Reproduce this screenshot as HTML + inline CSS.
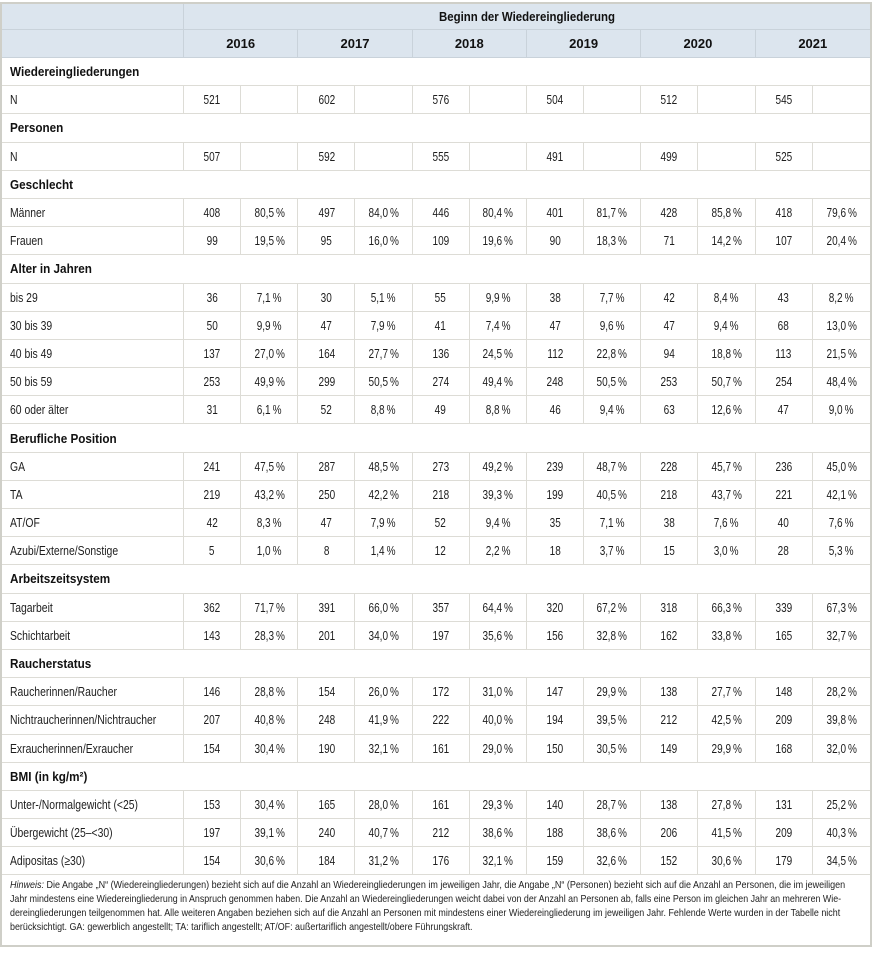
<!DOCTYPE html>
<html lang="de">
<head>
<meta charset="utf-8">
<style>
html,body{margin:0;padding:0;background:#fff}
body{width:872px;height:955px;position:relative;overflow:hidden;font-family:"Liberation Sans",Arial,sans-serif;color:#1e1e1e}
#w{position:absolute;left:0;top:2px;width:872px;height:945px;box-sizing:border-box;border:2px solid #cfcfc8}
table{border-collapse:separate;border-spacing:0;table-layout:fixed;width:868px}
td{padding:0;border-bottom:1px solid #dddcd6;border-right:1px solid #dddcd6;font-size:13px;text-align:center;vertical-align:middle;white-space:nowrap;overflow:visible;line-height:15px}
td.e{border-right:none}
tr.h td{background:#dce5ee;border-color:#c9d2da;font-weight:bold;color:#111}
tr.h1{height:26px}
tr.h2{height:28px}
tr.b{height:28.2px}
td.s{text-align:left;padding-left:8px;font-weight:bold;border-right:none;color:#111}
td.l{text-align:left;padding-left:8px}
span{display:inline-block}
td.l span{transform:scaleX(.80);transform-origin:0 50%}
td.n span{transform:scaleX(.77);transform-origin:50% 50%}
td.s span{transform:scaleX(.9);transform-origin:0 50%}
span.bg{transform:scaleX(.88);transform-origin:50% 50%}
.f{position:absolute;left:10px;top:879px;font-size:10.2px;line-height:14px;color:#1e1e1e}
.f div{white-space:nowrap;height:14px}
.f span{transform:scaleX(.82);transform-origin:0 50%}
</style>
</head>
<body>
<div id="w">
<table>
<colgroup>
<col style="width:182px">
<col style="width:57.17px"><col style="width:57.17px"><col style="width:57.17px"><col style="width:57.17px">
<col style="width:57.17px"><col style="width:57.17px"><col style="width:57.17px"><col style="width:57.17px">
<col style="width:57.17px"><col style="width:57.17px"><col style="width:57.17px"><col style="width:57.13px">
</colgroup>
<tr class="h h1"><td></td><td colspan="12" class="e"><span class="bg">Beginn der Wiedereingliederung</span></td></tr>
<tr class="h h2"><td></td><td colspan="2">2016</td><td colspan="2">2017</td><td colspan="2">2018</td><td colspan="2">2019</td><td colspan="2">2020</td><td colspan="2" class="e">2021</td></tr>

<tr class="b"><td colspan="13" class="s"><span>Wiedereingliederungen</span></td></tr>
<tr class="b"><td class="l"><span>N</span></td><td class="n"><span>521</span></td><td></td><td class="n"><span>602</span></td><td></td><td class="n"><span>576</span></td><td></td><td class="n"><span>504</span></td><td></td><td class="n"><span>512</span></td><td></td><td class="n"><span>545</span></td><td class="e"></td></tr>

<tr class="b"><td colspan="13" class="s"><span>Personen</span></td></tr>
<tr class="b"><td class="l"><span>N</span></td><td class="n"><span>507</span></td><td></td><td class="n"><span>592</span></td><td></td><td class="n"><span>555</span></td><td></td><td class="n"><span>491</span></td><td></td><td class="n"><span>499</span></td><td></td><td class="n"><span>525</span></td><td class="e"></td></tr>

<tr class="b"><td colspan="13" class="s"><span>Geschlecht</span></td></tr>
<tr class="b"><td class="l"><span>Männer</span></td><td class="n"><span>408</span></td><td class="n"><span>80,5&#8201;%</span></td><td class="n"><span>497</span></td><td class="n"><span>84,0&#8201;%</span></td><td class="n"><span>446</span></td><td class="n"><span>80,4&#8201;%</span></td><td class="n"><span>401</span></td><td class="n"><span>81,7&#8201;%</span></td><td class="n"><span>428</span></td><td class="n"><span>85,8&#8201;%</span></td><td class="n"><span>418</span></td><td class="n e"><span>79,6&#8201;%</span></td></tr>
<tr class="b"><td class="l"><span>Frauen</span></td><td class="n"><span>99</span></td><td class="n"><span>19,5&#8201;%</span></td><td class="n"><span>95</span></td><td class="n"><span>16,0&#8201;%</span></td><td class="n"><span>109</span></td><td class="n"><span>19,6&#8201;%</span></td><td class="n"><span>90</span></td><td class="n"><span>18,3&#8201;%</span></td><td class="n"><span>71</span></td><td class="n"><span>14,2&#8201;%</span></td><td class="n"><span>107</span></td><td class="n e"><span>20,4&#8201;%</span></td></tr>

<tr class="b"><td colspan="13" class="s"><span>Alter in Jahren</span></td></tr>
<tr class="b"><td class="l"><span>bis 29</span></td><td class="n"><span>36</span></td><td class="n"><span>7,1&#8201;%</span></td><td class="n"><span>30</span></td><td class="n"><span>5,1&#8201;%</span></td><td class="n"><span>55</span></td><td class="n"><span>9,9&#8201;%</span></td><td class="n"><span>38</span></td><td class="n"><span>7,7&#8201;%</span></td><td class="n"><span>42</span></td><td class="n"><span>8,4&#8201;%</span></td><td class="n"><span>43</span></td><td class="n e"><span>8,2&#8201;%</span></td></tr>
<tr class="b"><td class="l"><span>30 bis 39</span></td><td class="n"><span>50</span></td><td class="n"><span>9,9&#8201;%</span></td><td class="n"><span>47</span></td><td class="n"><span>7,9&#8201;%</span></td><td class="n"><span>41</span></td><td class="n"><span>7,4&#8201;%</span></td><td class="n"><span>47</span></td><td class="n"><span>9,6&#8201;%</span></td><td class="n"><span>47</span></td><td class="n"><span>9,4&#8201;%</span></td><td class="n"><span>68</span></td><td class="n e"><span>13,0&#8201;%</span></td></tr>
<tr class="b"><td class="l"><span>40 bis 49</span></td><td class="n"><span>137</span></td><td class="n"><span>27,0&#8201;%</span></td><td class="n"><span>164</span></td><td class="n"><span>27,7&#8201;%</span></td><td class="n"><span>136</span></td><td class="n"><span>24,5&#8201;%</span></td><td class="n"><span>112</span></td><td class="n"><span>22,8&#8201;%</span></td><td class="n"><span>94</span></td><td class="n"><span>18,8&#8201;%</span></td><td class="n"><span>113</span></td><td class="n e"><span>21,5&#8201;%</span></td></tr>
<tr class="b"><td class="l"><span>50 bis 59</span></td><td class="n"><span>253</span></td><td class="n"><span>49,9&#8201;%</span></td><td class="n"><span>299</span></td><td class="n"><span>50,5&#8201;%</span></td><td class="n"><span>274</span></td><td class="n"><span>49,4&#8201;%</span></td><td class="n"><span>248</span></td><td class="n"><span>50,5&#8201;%</span></td><td class="n"><span>253</span></td><td class="n"><span>50,7&#8201;%</span></td><td class="n"><span>254</span></td><td class="n e"><span>48,4&#8201;%</span></td></tr>
<tr class="b"><td class="l"><span>60 oder älter</span></td><td class="n"><span>31</span></td><td class="n"><span>6,1&#8201;%</span></td><td class="n"><span>52</span></td><td class="n"><span>8,8&#8201;%</span></td><td class="n"><span>49</span></td><td class="n"><span>8,8&#8201;%</span></td><td class="n"><span>46</span></td><td class="n"><span>9,4&#8201;%</span></td><td class="n"><span>63</span></td><td class="n"><span>12,6&#8201;%</span></td><td class="n"><span>47</span></td><td class="n e"><span>9,0&#8201;%</span></td></tr>

<tr class="b"><td colspan="13" class="s"><span>Berufliche Position</span></td></tr>
<tr class="b"><td class="l"><span>GA</span></td><td class="n"><span>241</span></td><td class="n"><span>47,5&#8201;%</span></td><td class="n"><span>287</span></td><td class="n"><span>48,5&#8201;%</span></td><td class="n"><span>273</span></td><td class="n"><span>49,2&#8201;%</span></td><td class="n"><span>239</span></td><td class="n"><span>48,7&#8201;%</span></td><td class="n"><span>228</span></td><td class="n"><span>45,7&#8201;%</span></td><td class="n"><span>236</span></td><td class="n e"><span>45,0&#8201;%</span></td></tr>
<tr class="b"><td class="l"><span>TA</span></td><td class="n"><span>219</span></td><td class="n"><span>43,2&#8201;%</span></td><td class="n"><span>250</span></td><td class="n"><span>42,2&#8201;%</span></td><td class="n"><span>218</span></td><td class="n"><span>39,3&#8201;%</span></td><td class="n"><span>199</span></td><td class="n"><span>40,5&#8201;%</span></td><td class="n"><span>218</span></td><td class="n"><span>43,7&#8201;%</span></td><td class="n"><span>221</span></td><td class="n e"><span>42,1&#8201;%</span></td></tr>
<tr class="b"><td class="l"><span>AT/OF</span></td><td class="n"><span>42</span></td><td class="n"><span>8,3&#8201;%</span></td><td class="n"><span>47</span></td><td class="n"><span>7,9&#8201;%</span></td><td class="n"><span>52</span></td><td class="n"><span>9,4&#8201;%</span></td><td class="n"><span>35</span></td><td class="n"><span>7,1&#8201;%</span></td><td class="n"><span>38</span></td><td class="n"><span>7,6&#8201;%</span></td><td class="n"><span>40</span></td><td class="n e"><span>7,6&#8201;%</span></td></tr>
<tr class="b"><td class="l"><span>Azubi/Externe/Sonstige</span></td><td class="n"><span>5</span></td><td class="n"><span>1,0&#8201;%</span></td><td class="n"><span>8</span></td><td class="n"><span>1,4&#8201;%</span></td><td class="n"><span>12</span></td><td class="n"><span>2,2&#8201;%</span></td><td class="n"><span>18</span></td><td class="n"><span>3,7&#8201;%</span></td><td class="n"><span>15</span></td><td class="n"><span>3,0&#8201;%</span></td><td class="n"><span>28</span></td><td class="n e"><span>5,3&#8201;%</span></td></tr>

<tr class="b"><td colspan="13" class="s"><span>Arbeitszeitsystem</span></td></tr>
<tr class="b"><td class="l"><span>Tagarbeit</span></td><td class="n"><span>362</span></td><td class="n"><span>71,7&#8201;%</span></td><td class="n"><span>391</span></td><td class="n"><span>66,0&#8201;%</span></td><td class="n"><span>357</span></td><td class="n"><span>64,4&#8201;%</span></td><td class="n"><span>320</span></td><td class="n"><span>67,2&#8201;%</span></td><td class="n"><span>318</span></td><td class="n"><span>66,3&#8201;%</span></td><td class="n"><span>339</span></td><td class="n e"><span>67,3&#8201;%</span></td></tr>
<tr class="b"><td class="l"><span>Schichtarbeit</span></td><td class="n"><span>143</span></td><td class="n"><span>28,3&#8201;%</span></td><td class="n"><span>201</span></td><td class="n"><span>34,0&#8201;%</span></td><td class="n"><span>197</span></td><td class="n"><span>35,6&#8201;%</span></td><td class="n"><span>156</span></td><td class="n"><span>32,8&#8201;%</span></td><td class="n"><span>162</span></td><td class="n"><span>33,8&#8201;%</span></td><td class="n"><span>165</span></td><td class="n e"><span>32,7&#8201;%</span></td></tr>

<tr class="b"><td colspan="13" class="s"><span>Raucherstatus</span></td></tr>
<tr class="b"><td class="l"><span>Raucherinnen/Raucher</span></td><td class="n"><span>146</span></td><td class="n"><span>28,8&#8201;%</span></td><td class="n"><span>154</span></td><td class="n"><span>26,0&#8201;%</span></td><td class="n"><span>172</span></td><td class="n"><span>31,0&#8201;%</span></td><td class="n"><span>147</span></td><td class="n"><span>29,9&#8201;%</span></td><td class="n"><span>138</span></td><td class="n"><span>27,7&#8201;%</span></td><td class="n"><span>148</span></td><td class="n e"><span>28,2&#8201;%</span></td></tr>
<tr class="b"><td class="l"><span>Nichtraucherinnen/Nichtraucher</span></td><td class="n"><span>207</span></td><td class="n"><span>40,8&#8201;%</span></td><td class="n"><span>248</span></td><td class="n"><span>41,9&#8201;%</span></td><td class="n"><span>222</span></td><td class="n"><span>40,0&#8201;%</span></td><td class="n"><span>194</span></td><td class="n"><span>39,5&#8201;%</span></td><td class="n"><span>212</span></td><td class="n"><span>42,5&#8201;%</span></td><td class="n"><span>209</span></td><td class="n e"><span>39,8&#8201;%</span></td></tr>
<tr class="b"><td class="l"><span>Exraucherinnen/Exraucher</span></td><td class="n"><span>154</span></td><td class="n"><span>30,4&#8201;%</span></td><td class="n"><span>190</span></td><td class="n"><span>32,1&#8201;%</span></td><td class="n"><span>161</span></td><td class="n"><span>29,0&#8201;%</span></td><td class="n"><span>150</span></td><td class="n"><span>30,5&#8201;%</span></td><td class="n"><span>149</span></td><td class="n"><span>29,9&#8201;%</span></td><td class="n"><span>168</span></td><td class="n e"><span>32,0&#8201;%</span></td></tr>

<tr class="b"><td colspan="13" class="s"><span>BMI (in kg/m²)</span></td></tr>
<tr class="b"><td class="l"><span>Unter-/Normalgewicht (&lt;25)</span></td><td class="n"><span>153</span></td><td class="n"><span>30,4&#8201;%</span></td><td class="n"><span>165</span></td><td class="n"><span>28,0&#8201;%</span></td><td class="n"><span>161</span></td><td class="n"><span>29,3&#8201;%</span></td><td class="n"><span>140</span></td><td class="n"><span>28,7&#8201;%</span></td><td class="n"><span>138</span></td><td class="n"><span>27,8&#8201;%</span></td><td class="n"><span>131</span></td><td class="n e"><span>25,2&#8201;%</span></td></tr>
<tr class="b"><td class="l"><span>Übergewicht (25–&lt;30)</span></td><td class="n"><span>197</span></td><td class="n"><span>39,1&#8201;%</span></td><td class="n"><span>240</span></td><td class="n"><span>40,7&#8201;%</span></td><td class="n"><span>212</span></td><td class="n"><span>38,6&#8201;%</span></td><td class="n"><span>188</span></td><td class="n"><span>38,6&#8201;%</span></td><td class="n"><span>206</span></td><td class="n"><span>41,5&#8201;%</span></td><td class="n"><span>209</span></td><td class="n e"><span>40,3&#8201;%</span></td></tr>
<tr class="b"><td class="l"><span>Adipositas (≥30)</span></td><td class="n"><span>154</span></td><td class="n"><span>30,6&#8201;%</span></td><td class="n"><span>184</span></td><td class="n"><span>31,2&#8201;%</span></td><td class="n"><span>176</span></td><td class="n"><span>32,1&#8201;%</span></td><td class="n"><span>159</span></td><td class="n"><span>32,6&#8201;%</span></td><td class="n"><span>152</span></td><td class="n"><span>30,6&#8201;%</span></td><td class="n"><span>179</span></td><td class="n e"><span>34,5&#8201;%</span></td></tr>
</table>
</div>
<div class="f">
<div><span><i>Hinweis:</i> Die Angabe „N“ (Wiedereingliederungen) bezieht sich auf die Anzahl an Wiedereingliederungen im jeweiligen Jahr, die Angabe „N“ (Personen) bezieht sich auf die Anzahl an Personen, die im jeweiligen</span></div>
<div><span>Jahr mindestens eine Wiedereingliederung in Anspruch genommen haben. Die Anzahl an Wiedereingliederungen weicht dabei von der Anzahl an Personen ab, falls eine Person im gleichen Jahr an mehreren Wie-</span></div>
<div><span>dereingliederungen teilgenommen hat. Alle weiteren Angaben beziehen sich auf die Anzahl an Personen mit mindestens einer Wiedereingliederung im jeweiligen Jahr. Fehlende Werte wurden in der Tabelle nicht</span></div>
<div><span>berücksichtigt. GA: gewerblich angestellt; TA: tariflich angestellt; AT/OF: außertariflich angestellt/obere Führungskraft.</span></div>
</div>
<script>
(function(){
  var t=[835,831,830];
  var ls=document.querySelectorAll('.f span');
  var sc=0.82;
  for(var i=0;i<ls.length;i++){
    var w=ls[i].offsetWidth;
    if(!w) continue;
    if(i<3){ sc=t[i]/w; }
    ls[i].style.transform='scaleX('+sc+')';
  }
})();
</script>
</body>
</html>
